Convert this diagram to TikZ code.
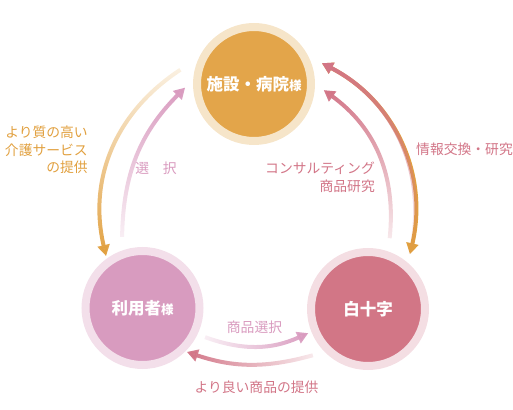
\documentclass[tikz,border=0pt]{standalone}
\usepackage{fontspec}
\newfontfamily\cjk{Noto Sans CJK JP}
\usetikzlibrary{arrows.meta,fadings,calc}

\definecolor{shisetsuFill}{HTML}{E3A54A}
\definecolor{shisetsuRing}{HTML}{F6E5C9}
\definecolor{riyouFill}{HTML}{D89BBF}
\definecolor{riyouRing}{HTML}{F3DFEA}
\definecolor{hakuFill}{HTML}{D27686}
\definecolor{hakuRing}{HTML}{F4DEE3}
\definecolor{orangeArrow}{HTML}{E1A03F}
\definecolor{violetArrow}{HTML}{D99BBF}
\definecolor{roseArrow}{HTML}{D27587}

% fadings, named after the faint end
\tikzfading[name=faint top, top color=transparent!85, middle color=transparent!35, bottom color=transparent!0]
\tikzfading[name=faint bottom, top color=transparent!0, middle color=transparent!35, bottom color=transparent!85]
\tikzfading[name=faint left, left color=transparent!85, middle color=transparent!35, right color=transparent!0]
\tikzfading[name=faint right, left color=transparent!0, middle color=transparent!35, right color=transparent!85]
\tikzfading[name=rose top, top color=transparent!0, middle color=transparent!40, bottom color=transparent!100]

\tikzset{
  place/.style={circle, minimum size=114pt, inner sep=0pt, line width=8pt,
    text=white, font=\cjk\bfseries\fontsize{16.5}{20}\selectfont},
  flow/.style={line width=4pt, -{Triangle[length=11pt,width=12pt]}},
  note/.style={inner sep=0pt, font=\cjk\fontsize{13.8}{17.5}\selectfont}
}

\begin{document}
\begin{tikzpicture}[x=1pt, y=1pt]
    \useasboundingbox (0,0) rectangle (513,409);

    % Circles
    \node[place, draw=shisetsuRing, fill=shisetsuFill] (shisetsu) at (254,325)
        {施設・病院{\fontsize{12.5}{14}\selectfont 様}};
    \node[place, draw=riyouRing, fill=riyouFill] (riyou) at (142.5,101)
        {利用者{\fontsize{12.5}{14}\selectfont 様}};
    \node[place, draw=hakuRing, fill=hakuFill] (haku) at (368,100) {白十字};

    % Arrow ends
    \coordinate (a1s) at ($(shisetsu)+(169:75)$);
    \coordinate (a1e) at ($(riyou)+(125:63.5)$);
    \coordinate (a2s) at ($(riyou)+(106:74)$);
    \coordinate (a2e) at ($(shisetsu)+(183:69)$);
    \coordinate (a3s) at ($(shisetsu)+(17:71)$);
    \coordinate (a3e) at ($(haku)+(52.6:69)$);
    \coordinate (a4s) at ($(haku)+(73:74)$);
    \coordinate (a4e) at ($(shisetsu)+(-5:70)$);
    \coordinate (a5s) at ($(riyou)+(-25:69)$);
    \coordinate (a5e) at ($(haku)+(202:64.5)$);
    \coordinate (a6s) at ($(haku)+(220:72)$);
    \coordinate (a6e) at ($(riyou)+(-44.7:62.5)$);

    % Arrows
    \draw[flow, orangeArrow, path fading=faint top] (a1s) to[bend right=35] (a1e);
    \draw[flow, violetArrow, path fading=faint bottom] (a2s) to[bend left=22] (a2e);
    \draw[flow, orangeArrow, {Triangle[length=11pt,width=12pt]}-{Triangle[length=11pt,width=12pt]}]
        (a3s) to[bend left=38] (a3e);
    \draw[flow, roseArrow, {Triangle[length=11pt,width=12pt]}-, path fading=rose top]
        (a3s) to[bend left=38] (a3e);
    \draw[flow, roseArrow, path fading=faint bottom] (a4s) to[bend right=30] (a4e);
    \draw[flow, violetArrow, path fading=faint left] (a5s) to[bend right=22] (a5e);
    \draw[flow, roseArrow, path fading=faint right] (a6s) to[bend left=17] (a6e);

    % Labels
    \node[note, text=orangeArrow, align=right, anchor=east] (careNote) at (88,259)
        {より質の高い\\介護サービス\\の提供};
    \node[note, text=violetArrow] (choiceNote) at (156,241) {選　択};
    \node[note, text=roseArrow, anchor=east] (infoNote) at (513,260) {情報交換・研究};
    \node[note, text=roseArrow, align=right, anchor=east,
        font=\cjk\fontsize{13.8}{18}\selectfont] (consultNote) at (375,232)
        {コンサルティング\\商品研究};
    \node[note, text=violetArrow] (goodsNote) at (254.5,82) {商品選択};
    \node[note, text=roseArrow] (supplyNote) at (256.5,22) {より良い商品の提供};
\end{tikzpicture}
\end{document}
